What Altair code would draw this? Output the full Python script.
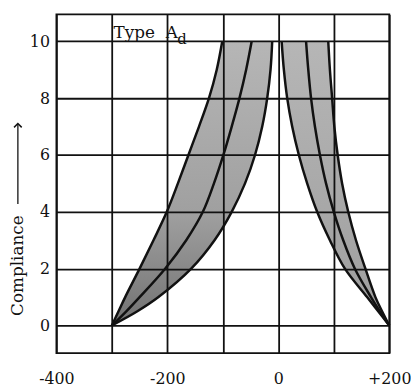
import altair as alt
import pandas as pd

# ---- data ----
y_levels = [0, 0.5, 1, 2, 3, 4, 5, 6, 7, 8, 9, 10]

# left band (converges at -300, 0)
left_outer = [-300, -288, -276, -250, -225, -201, -181, -162, -143, -125, -111, -101]
left_mid = [-300, -274, -250, -204, -166, -136, -116, -99, -84, -70, -58, -48]
left_inner = [-300, -254, -216, -157, -115, -84, -60, -42, -29, -20, -14, -11]

# right band (converges at +200, 0)
right_outer = [200, 180, 160, 120, 93, 70, 52, 37, 25, 16, 10, 6]
right_mid = [200, 183, 167, 138, 117, 100, 86, 75, 66, 59, 54, 50]
right_inner = [200, 187, 175, 157, 140, 126, 115, 107, 101, 97, 93, 90]

x_grid = [-400, -300, -200, -100, 0, 100, 200]
y_grid = [0, 2, 4, 6, 8, 10]

# ---- tables ----
lines_rows = []
for name, xs in [("lo", left_outer), ("lm", left_mid), ("li", left_inner),
                 ("ro", right_outer), ("rm", right_mid), ("ri", right_inner)]:
    for yy, xx in zip(y_levels, xs):
        lines_rows.append({"curve": name, "y": yy, "x": xx})
lines_df = pd.DataFrame(lines_rows)

left_area = pd.DataFrame({"y": y_levels, "x": left_outer, "x2": left_inner})
right_area = pd.DataFrame({"y": y_levels, "x": right_outer, "x2": right_inner})

FONT = "DejaVu Serif"

xscale = alt.Scale(domain=[-400, 200], nice=False, zero=False)
yscale = alt.Scale(domain=[-0.97, 10.95], nice=False, zero=False)

xaxis = alt.Axis(
    values=x_grid, grid=True, gridColor="#111", gridWidth=1.8, gridOpacity=1,
    ticks=False, tickSize=0, domain=False, title=None,
    labelExpr="datum.value == -400 ? '-400' : datum.value == -200 ? '-200' : datum.value == 0 ? '0' : datum.value == 200 ? '+200' : ''",
    labelFont=FONT, labelFontSize=16, labelColor="#111", labelPadding=18,
    labelFlush=False, labelOverlap=False, labelBound=False, zindex=1,
)
yaxis = alt.Axis(
    values=y_grid, grid=True, gridColor="#111", gridWidth=1.8, gridOpacity=1,
    ticks=False, tickSize=0, domain=False,
    title="Compliance", titleFont=FONT, titleFontSize=17, titleFontWeight="normal",
    titleColor="#111", titleAngle=270, titleX=-39, titleY=254,
    titleAlign="center", titleBaseline="middle",
    labelFont=FONT, labelFontSize=16, labelColor="#111", labelPadding=7,
    labelFlush=False, labelOverlap=False, zindex=1,
)

X = alt.X("x:Q", scale=xscale, axis=xaxis)
Y = alt.Y("y:Q", scale=yscale, axis=yaxis)

left_fill = alt.Gradient(
    gradient="linear",
    stops=[alt.GradientStop(color="#b6b6b6", offset=0),
           alt.GradientStop(color="#a0a0a0", offset=0.6),
           alt.GradientStop(color="#727272", offset=1)],
    x1=0, x2=0, y1=0, y2=1,
)
right_fill = alt.Gradient(
    gradient="linear",
    stops=[alt.GradientStop(color="#b6b6b6", offset=0),
           alt.GradientStop(color="#9e9e9e", offset=1)],
    x1=0, x2=0, y1=0, y2=1,
)

area_l = alt.Chart(left_area).mark_area(
    orient="horizontal", interpolate="catmull-rom", color=left_fill
).encode(x=X, x2="x2:Q", y=Y)

area_r = alt.Chart(right_area).mark_area(
    orient="horizontal", interpolate="catmull-rom", color=right_fill
).encode(x=X, x2="x2:Q", y=Y)

lines = alt.Chart(lines_df).mark_line(
    color="#111", strokeWidth=2.5, interpolate="catmull-rom"
).encode(x=X, y=Y, detail="curve:N", order="y:Q")

# "Type A_d" label
label_df = pd.DataFrame({"x": [-297, -203], "y": [10.1, 10.1], "t": ["Type", "A"]})
label = alt.Chart(label_df).mark_text(
    font=FONT, fontSize=17, align="left", baseline="alphabetic", color="#111"
).encode(x=X, y=Y, text="t:N")
sub_df = pd.DataFrame({"x": [-182], "y": [9.9], "t": ["d"]})
sub = alt.Chart(sub_df).mark_text(
    font=FONT, fontSize=15, align="left", baseline="alphabetic", color="#111"
).encode(x=X, y=Y, text="t:N")

# arrow next to the y-axis title
arrow_line = alt.Chart(pd.DataFrame({"a": [0]})).mark_rule(
    color="#111", strokeWidth=1.3
).encode(x=alt.value(-39), y=alt.value(111), y2=alt.value(192))
arrow_head = alt.Chart(pd.DataFrame({"a": [0]})).mark_point(
    shape="M -1 0.9 L 0 -0.1 L 1 0.9", filled=False, color="#111",
    strokeWidth=1.5, size=60, opacity=1
).encode(x=alt.value(-39), y=alt.value(111))

chart = alt.layer(area_l, area_r, lines, label, sub, arrow_line, arrow_head).properties(
    width=337, height=343,
    padding={"left": 49, "top": 4, "right": 22, "bottom": 35},
    autosize=alt.AutoSizeParams(type="none"),
    background="white",
).configure_view(stroke="#111", strokeWidth=1.8)

chart.save("out.html", embed_options={"renderer": "svg", "actions": False})
